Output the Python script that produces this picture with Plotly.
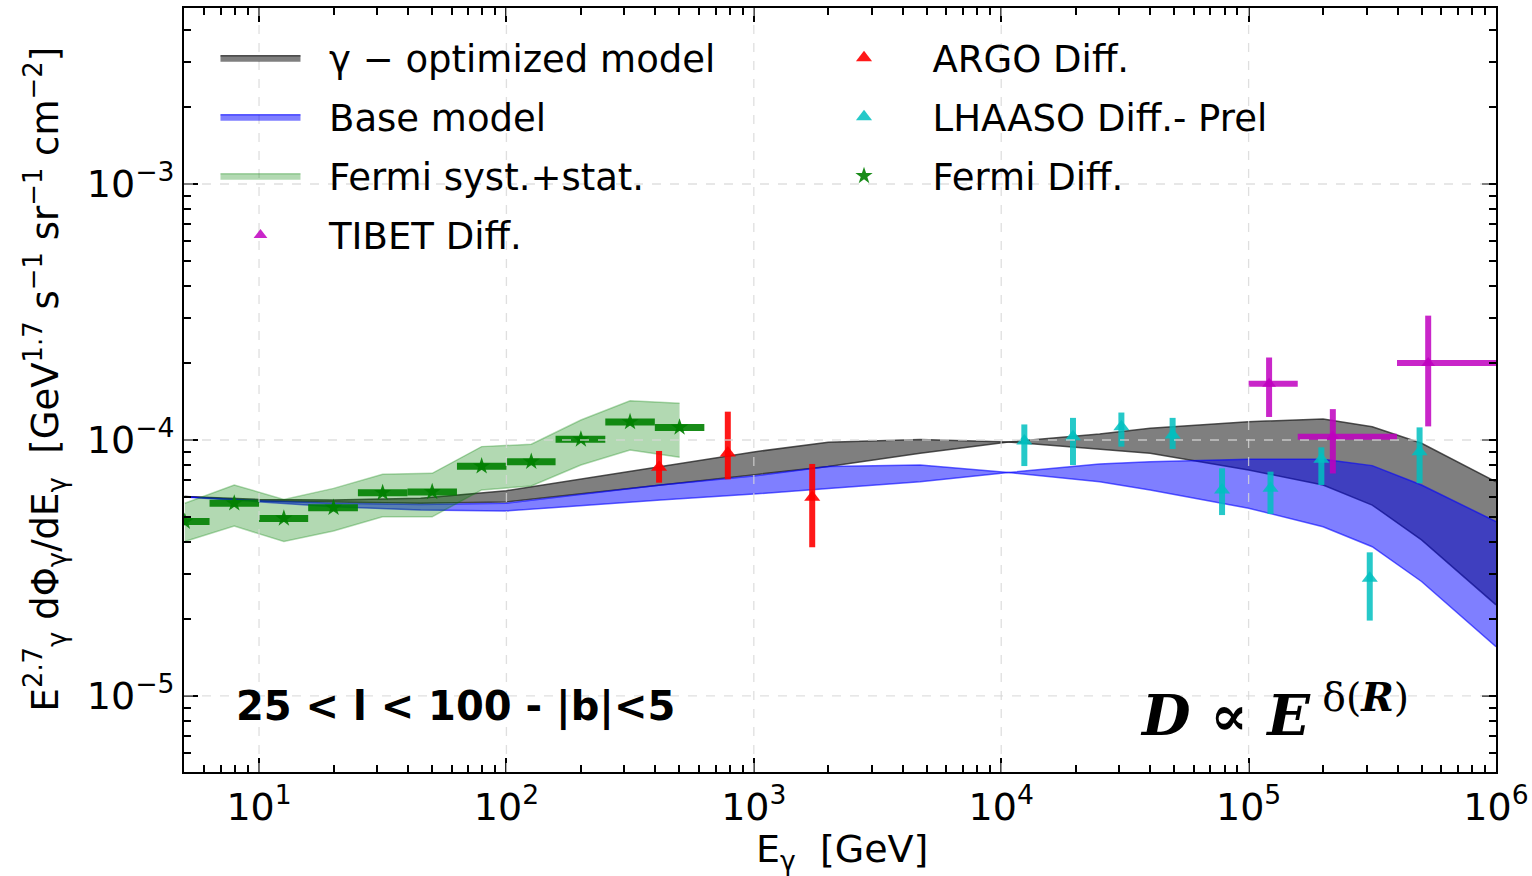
import plotly.graph_objects as go

# ---------------- model bands (energy grid in GeV) ----------------
E_model = [5.0, 10, 20, 45, 100, 420, 1000, 2000, 4700, 10700, 25000, 40000,
           1e5, 2e5, 3.16e5, 5e5, 1e6]
gamma_opt_a = [6.01e-5, 5.78e-5, 5.73e-5, 5.66e-5, 5.73e-5, 6.67e-5, 7.30e-5, 7.87e-5,
               8.87e-5, 9.82e-5, 1.055e-4, 1.111e-4, 1.179e-4, 1.208e-4, 1.127e-4,
               9.71e-5, 6.87e-5]
gamma_opt_b = [6.01e-5, 5.86e-5, 5.83e-5, 5.92e-5, 6.34e-5, 7.87e-5, 8.98e-5, 9.80e-5,
               1.005e-4, 9.82e-5, 9.22e-5, 8.87e-5, 7.64e-5, 6.67e-5, 5.57e-5,
               4.07e-5, 2.27e-5]
base_a = [6.00e-5, 5.79e-5, 5.66e-5, 5.60e-5, 5.66e-5, 6.67e-5, 7.23e-5, 7.87e-5,
          7.99e-5, 7.46e-5, 6.87e-5, 6.38e-5, 5.41e-5, 4.58e-5, 3.83e-5, 2.80e-5, 1.558e-5]
base_b = [5.99e-5, 5.75e-5, 5.49e-5, 5.33e-5, 5.28e-5, 5.83e-5, 6.15e-5, 6.47e-5,
          6.87e-5, 7.46e-5, 8.06e-5, 8.23e-5, 8.41e-5, 8.41e-5, 7.94e-5, 6.67e-5, 4.80e-5]

# ---------------- Fermi ----------------
fermi_E = [5.01, 7.94, 12.6, 20.0, 31.6, 50.1, 79.4, 126, 200, 316, 501]
fermi_E_lo = [3.98, 6.31, 10.0, 15.8, 25.1, 39.8, 63.1, 100, 158, 251, 398]
fermi_E_hi = [6.31, 10.0, 15.8, 25.1, 39.8, 63.1, 100, 158, 251, 398, 631]
fermi_F = [4.80e-5, 5.66e-5, 4.94e-5, 5.44e-5, 6.22e-5, 6.27e-5, 7.90e-5, 8.23e-5,
           1.006e-4, 1.176e-4, 1.12e-4]
fermi_band_hi = [5.66e-5, 6.67e-5, 5.86e-5, 6.47e-5, 7.34e-5, 7.41e-5, 9.42e-5, 9.62e-5,
                 1.197e-4, 1.423e-4, 1.39e-4]
fermi_band_lo = [4.01e-5, 4.61e-5, 4.01e-5, 4.41e-5, 5.01e-5, 5.01e-5, 6.38e-5, 6.61e-5,
                 7.98e-5, 9.14e-5, 8.56e-5]

# ---------------- ARGO ----------------
argo_E = [414, 785, 1722]
argo_F = [7.82e-5, 8.90e-5, 5.97e-5]
argo_F_hi = [9.06e-5, 1.29e-4, 8.06e-5]
argo_F_lo = [6.81e-5, 7.02e-5, 3.81e-5]

# ---------------- LHAASO ----------------
lhaaso_E = [12400, 19500, 30600, 49300, 78100, 122600, 196800, 308800, 491000]
lhaaso_F = [9.90e-5, 1.03e-4, 1.127e-4, 1.046e-4, 6.38e-5, 6.48e-5, 8.41e-5, 2.88e-5, 9.0e-5]
lhaaso_F_hi = [1.15e-4, 1.22e-4, 1.28e-4, 1.22e-4, 7.75e-5, 7.52e-5, 9.36e-5, 3.64e-5, 1.12e-4]
lhaaso_F_lo = [7.91e-5, 7.98e-5, 9.42e-5, 9.22e-5, 5.09e-5, 5.14e-5, 6.67e-5, 1.97e-5, 6.78e-5]

# ---------------- TIBET ----------------
tibet_E = [1.21e5, 2.19e5, 5.32e5]
tibet_E_lo = [1.0e5, 1.58e5, 3.98e5]
tibet_E_hi = [1.58e5, 3.98e5, 1.0e6]
tibet_F = [1.66e-4, 1.03e-4, 2.0e-4]
tibet_F_hi = [2.10e-4, 1.32e-4, 3.06e-4]
tibet_F_lo = [1.23e-4, 7.4e-5, 1.13e-4]

x_tickvals = [10, 100, 1e3, 1e4, 1e5, 1e6]
x_ticktext = ["10<sup>1</sup>", "10<sup>2</sup>", "10<sup>3</sup>", "10<sup>4</sup>",
              "10<sup>5</sup>", "10<sup>6</sup>"]
y_tickvals = [1e-5, 1e-4, 1e-3]
y_ticktext = ["10<sup>−5</sup>", "10<sup>−4</sup>", "10<sup>−3</sup>"]

x_title = "E<sub>γ</sub>  [GeV]"
y_title = ("E<sup>2.7</sup><sub>γ</sub> dΦ<sub>γ</sub>/dE<sub>γ</sub>  "
           "[GeV<sup>1.7</sup> s<sup>−1</sup> sr<sup>−1</sup> cm<sup>−2</sup>]")

FONT = "DejaVu Sans"
PAD = "\u00a0\u00a0"

def plus(v, hi):
    return [h - x for x, h in zip(v, hi)]

def minus(v, lo):
    return [x - l for x, l in zip(v, lo)]

fig = go.Figure()

# gamma-optimized band
fig.add_trace(go.Scatter(x=E_model, y=gamma_opt_a, mode="lines",
                         line=dict(color="rgba(30,30,30,0.75)", width=1.5),
                         showlegend=False, hoverinfo="skip", legend="legend",
                         legendgroup="g1"))
fig.add_trace(go.Scatter(x=E_model, y=gamma_opt_b, mode="lines", fill="tonexty",
                         fillcolor="rgba(0,0,0,0.5)",
                         line=dict(color="rgba(30,30,30,0.75)", width=1.5),
                         name=PAD + "γ − optimized model", legend="legend", legendgroup="g1"))
# base band
fig.add_trace(go.Scatter(x=E_model, y=base_a, mode="lines",
                         line=dict(color="rgba(0,0,255,0.6)", width=1.5),
                         showlegend=False, hoverinfo="skip", legend="legend",
                         legendgroup="g2"))
fig.add_trace(go.Scatter(x=E_model, y=base_b, mode="lines", fill="tonexty",
                         fillcolor="rgba(0,0,255,0.5)",
                         line=dict(color="rgba(0,0,255,0.6)", width=1.5),
                         name=PAD + "Base model", legend="legend", legendgroup="g2"))
# Fermi syst band
fig.add_trace(go.Scatter(x=fermi_E, y=fermi_band_lo, mode="lines",
                         line=dict(color="rgba(0,128,0,0.3)", width=1.5),
                         showlegend=False, hoverinfo="skip", legend="legend",
                         legendgroup="g3"))
fig.add_trace(go.Scatter(x=fermi_E, y=fermi_band_hi, mode="lines", fill="tonexty",
                         fillcolor="rgba(0,128,0,0.3)",
                         line=dict(color="rgba(0,128,0,0.3)", width=1.5),
                         name=PAD + "Fermi syst.+stat.", legend="legend", legendgroup="g3"))

# Fermi points
fig.add_trace(go.Scatter(
    x=fermi_E, y=fermi_F, mode="markers", name=PAD + "Fermi Diff.", legend="legend2",
    legendrank=3, legendgroup="h3",
    marker=dict(symbol="star", size=13, color="rgba(0,128,0,0.9)"),
    error_x=dict(type="data", symmetric=False, array=plus(fermi_E, fermi_E_hi),
                 arrayminus=minus(fermi_E, fermi_E_lo), thickness=7, width=0,
                 color="rgba(0,128,0,0.9)")))
# ARGO
fig.add_trace(go.Scatter(
    x=argo_E, y=argo_F, mode="markers", name=PAD + "ARGO Diff.", legend="legend2",
    legendrank=1, legendgroup="h1",
    marker=dict(symbol="triangle-up", size=14, color="rgba(255,0,0,0.9)"),
    error_y=dict(type="data", symmetric=False, array=plus(argo_F, argo_F_hi),
                 arrayminus=minus(argo_F, argo_F_lo), thickness=6, width=0,
                 color="rgba(255,0,0,0.9)")))
# LHAASO
fig.add_trace(go.Scatter(
    x=lhaaso_E, y=lhaaso_F, mode="markers", name=PAD + "LHAASO Diff.- Prel",
    legend="legend2", legendrank=2, legendgroup="h2",
    marker=dict(symbol="triangle-up", size=14, color="rgba(0,191,191,0.85)"),
    error_y=dict(type="data", symmetric=False, array=plus(lhaaso_F, lhaaso_F_hi),
                 arrayminus=minus(lhaaso_F, lhaaso_F_lo), thickness=6, width=0,
                 color="rgba(0,191,191,0.85)")))
# TIBET
fig.add_trace(go.Scatter(
    x=tibet_E, y=tibet_F, mode="markers", name=PAD + "TIBET Diff.", legend="legend",
    legendgroup="g4",
    marker=dict(symbol="triangle-up", size=12, color="rgba(191,0,191,0.85)"),
    error_x=dict(type="data", symmetric=False, array=plus(tibet_E, tibet_E_hi),
                 arrayminus=minus(tibet_E, tibet_E_lo), thickness=6, width=0,
                 color="rgba(191,0,191,0.85)"),
    error_y=dict(type="data", symmetric=False, array=plus(tibet_F, tibet_F_hi),
                 arrayminus=minus(tibet_F, tibet_F_lo), thickness=6, width=0,
                 color="rgba(191,0,191,0.85)")))

# dashed grid drawn above the traces
grid = dict(color="rgba(215,215,215,0.8)", width=1.3, dash="dash")
for xv in x_tickvals[:-1]:
    fig.add_shape(type="line", xref="x", yref="paper", x0=xv, x1=xv, y0=0, y1=1,
                  line=grid, layer="above")
for yv in y_tickvals:
    fig.add_shape(type="line", xref="paper", yref="y", x0=0, x1=1, y0=yv, y1=yv,
                  line=grid, layer="above")

x_minor = [m * 10 ** d for d in range(0, 6) for m in range(2, 10)]
y_minor = [m * 10.0 ** d for d in range(-6, -2) for m in range(2, 10)]

axis_common = dict(type="log", showline=True, linecolor="black", linewidth=2,
                   mirror="ticks", ticks="inside", ticklen=14, tickwidth=2,
                   tickcolor="black", showgrid=False, zeroline=False, automargin=False,
                   tickfont=dict(family=FONT, size=38, color="black"), layer="above traces")

fig.update_xaxes(**axis_common, range=[0.6967, 6.0], tickmode="array",
                 tickvals=x_tickvals, ticktext=x_ticktext,
                 minor=dict(tickmode="array", tickvals=x_minor, ticks="inside", ticklen=7,
                            tickwidth=1.5, tickcolor="black", showgrid=False))
fig.update_yaxes(**axis_common, range=[-5.297, -2.3125], tickmode="array",
                 tickvals=y_tickvals, ticktext=y_ticktext,
                 minor=dict(tickmode="array", tickvals=y_minor, ticks="inside", ticklen=7,
                            tickwidth=1.5, tickcolor="black", showgrid=False))

# axis titles
fig.add_annotation(text=x_title, xref="paper", yref="paper", x=0.5015, y=-0.104,
                   xanchor="center", yanchor="middle", showarrow=False,
                   font=dict(family=FONT, size=38, color="black"))
fig.add_annotation(text=y_title, xref="paper", yref="paper", x=-0.106, y=0.515,
                   xanchor="center", yanchor="middle", showarrow=False, textangle=-90,
                   font=dict(family=FONT, size=37, color="black"))

fig.add_annotation(text="<b>25 < l < 100 - |b|<5</b>", xref="paper", yref="paper",
                   x=0.038, y=0.085, xanchor="left", yanchor="middle", showarrow=False,
                   font=dict(family=FONT, size=40, color="black"))
fig.add_annotation(text="<b><i>D ∝ E</i></b><sup> δ(<b><i>R</i></b>)</sup>",
                   xref="paper", yref="paper", x=0.727, y=0.08, xanchor="left",
                   yanchor="middle", showarrow=False,
                   font=dict(family="DejaVu Serif", size=56, color="black"))

leg_common = dict(y=0.975, xanchor="left", yanchor="top", bgcolor="rgba(0,0,0,0)",
                  font=dict(family=FONT, size=37, color="black"),
                  itemwidth=80, tracegroupgap=8, traceorder="grouped")
fig.update_layout(
    width=1532, height=876, autosize=False,
    margin=dict(l=184, r=36, t=8, b=104),
    plot_bgcolor="white", paper_bgcolor="white",
    font=dict(family=FONT, color="black"),
    legend=dict(x=0.024, **leg_common),
    legend2=dict(x=0.484, **leg_common),
)

fig.write_html("out.html")
